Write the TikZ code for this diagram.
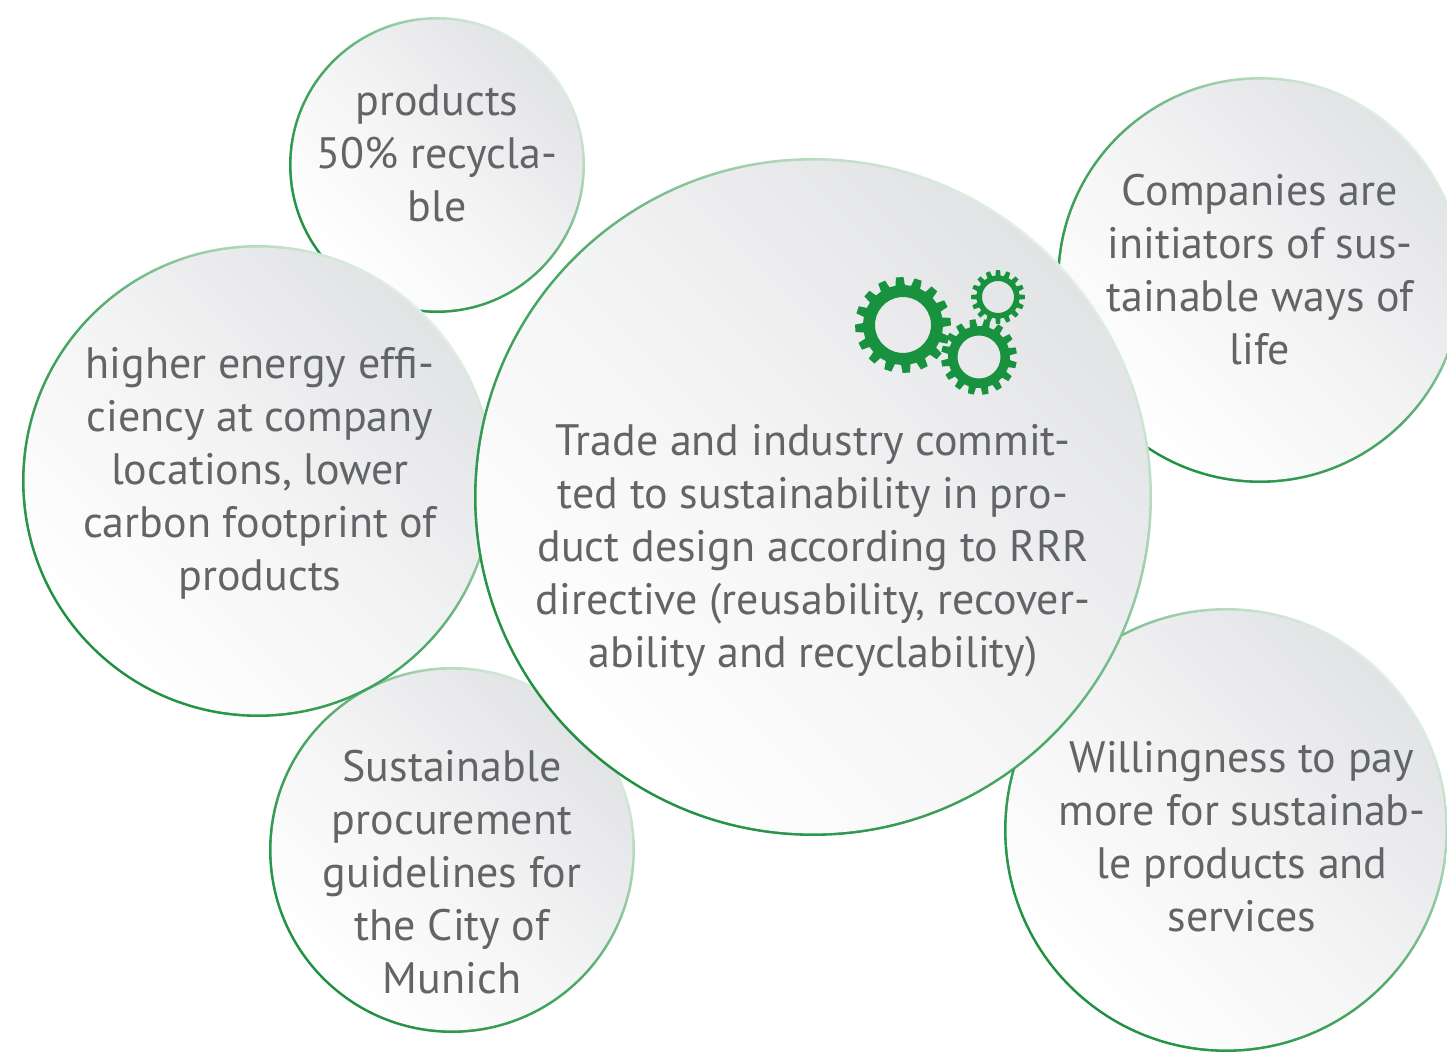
\documentclass[tikz,border=0pt]{standalone}
\usepackage{fontspec}
\setmainfont{PT Sans}
\definecolor{txtgray}{RGB}{99,100,102}
\definecolor{rimdark}{RGB}{30,145,64}
\definecolor{rimlight}{RGB}{226,240,228}
\definecolor{facegray}{RGB}{226,227,229}
\definecolor{gearc}{RGB}{24,146,62}
\tikzset{
 rim/.style={top color=rimlight, bottom color=rimdark, middle color=rimdark!75!rimlight, shading angle=-45},
 face/.style={top color=facegray, bottom color=white, middle color=facegray!40!white, shading angle=-45},
 bubtext/.style={text=txtgray, align=center, font=\fontsize{22}{26.5}\selectfont}
}
\begin{document}
\begin{tikzpicture}[x=0.5pt,y=0.5pt]
 \useasboundingbox (0,0) rectangle (1447,-1053);
 \clip (0,0) rectangle (1447,-1053);
 \coordinate (ctop) at (437,-165);
 \coordinate (cbl) at (452,-850);
 \coordinate (ctr) at (1260,-280);
 \coordinate (cbr) at (1226,-830);
 \coordinate (cleft) at (258,-481);
 \coordinate (cmid) at (813,-497);
 \shade[rim] (ctop) circle[radius=148];
 \shade[face] (ctop) circle[radius=145.4];
 \shade[rim] (cbl) circle[radius=183];
 \shade[face] (cbl) circle[radius=180.4];
 \shade[rim] (ctr) circle[radius=203];
 \shade[face] (ctr) circle[radius=200.4];
 \shade[rim] (cbr) circle[radius=222];
 \shade[face] (cbr) circle[radius=219.4];
 \shade[rim] (cleft) circle[radius=236];
 \shade[face] (cleft) circle[radius=233.4];
 \shade[rim] (cmid) circle[radius=339];
 \shade[face] (cmid) circle[radius=336.4];
 \begin{scope}[shift={(903,-325)},rotate=4]
  \fill[gearc,even odd rule] (0,0) circle[radius=28] (-6.75:40)
   \foreach \a in {0,22.5,...,337.5}{ -- ({\a-6.75}:40) -- ({\a-4.5}:48) -- ({\a+4.5}:48) -- ({\a+6.75}:40)} -- cycle;
 \end{scope}
 \begin{scope}[shift={(979,-357)},rotate=10]
  \fill[gearc,even odd rule] (0,0) circle[radius=21.5] (-6.75:31)
   \foreach \a in {0,22.5,...,337.5}{ -- ({\a-6.75}:31) -- ({\a-4.5}:38) -- ({\a+4.5}:38) -- ({\a+6.75}:31)} -- cycle;
 \end{scope}
 \begin{scope}[shift={(998,-297)},rotate=0]
  \fill[gearc,even odd rule] (0,0) circle[radius=16] (-6.75:21.5)
   \foreach \a in {0,22.5,...,337.5}{ -- ({\a-6.75}:21.5) -- ({\a-4.5}:27) -- ({\a+4.5}:27) -- ({\a+6.75}:21.5)} -- cycle;
 \end{scope}
 \node[bubtext] (products) at (437,-153) {products\\50\% recycla-\\ble};
 \node[bubtext] (energy) at (260,-473) {higher energy effi-\\ciency at company\\locations, lower\\carbon footprint of\\products};
 \node[bubtext] (trade) at (813,-551) {Trade and industry commit-\\ted to sustainability in pro-\\duct design according to RRR\\directive (reusability, recover-\\ability and recyclability)};
 \node[bubtext] (initiators) at (1260,-270) {Companies are\\initiators of sus-\\tainable ways of\\life};
 \node[bubtext] (procure) at (452,-872) {Sustainable\\procurement\\guidelines for\\the City of\\Munich};
 \node[bubtext] (willing) at (1242,-837) {Willingness to pay\\more for sustainab-\\le products and\\services};
\end{tikzpicture}
\end{document}
